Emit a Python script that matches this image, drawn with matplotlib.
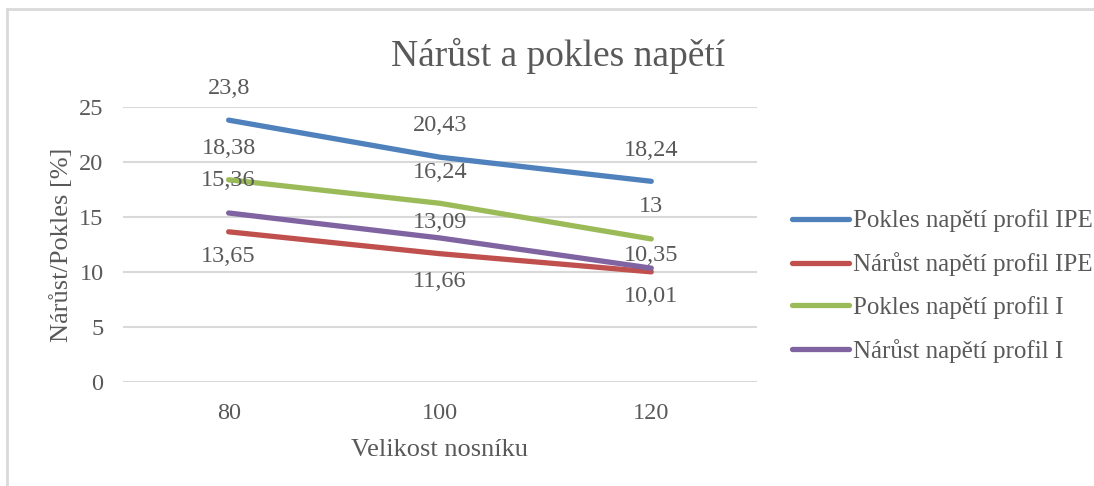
import matplotlib.pyplot as plt
from matplotlib.lines import Line2D

plt.rcParams['font.family'] = ['Liberation Serif', 'DejaVu Serif']

sizes = ['80', '100', '120']
pokles_ipe = [23.8, 20.43, 18.24]
narust_ipe = [13.65, 11.66, 10.01]
pokles_i = [18.38, 16.24, 13.0]
narust_i = [15.36, 13.09, 10.35]
series_names = ['Pokles napětí profil IPE', 'Nárůst napětí profil IPE',
                'Pokles napětí profil I', 'Nárůst napětí profil I']
y_ticks = [0, 5, 10, 15, 20, 25]

txt = '#595959'
colors = ['#4F81BD', '#C0504D', '#9BBB59', '#8064A2']
# vertical offset of the data labels, pixels (+ above, - below)
label_off = [[32, 32, 31], [-25, -28, -25], [31, 31, 32], [32, 15, 13]]

fig = plt.figure(figsize=(10.94, 4.86), dpi=100)
ax = fig.add_axes([0.1124, 0.214, 0.5795, 0.566])

x = [i + 0.5 for i in range(len(sizes))]
all_series = [pokles_ipe, narust_ipe, pokles_i, narust_i]
for vals, name, col, offs in zip(all_series, series_names, colors, label_off):
    ax.plot(x, vals, color=col, linewidth=3.8, solid_capstyle='round',
            solid_joinstyle='round', label=name, zorder=3)
    for xi, v, o in zip(x, vals, offs):
        lab = ('%g' % v).replace('.', ',')
        ax.annotate(lab, (xi, v), xytext=(0, o * 0.72), textcoords='offset points',
                    ha='center', va='center', fontsize=17.5, color=txt, zorder=4)

ax.set_xlim(0, 3)
ax.set_ylim(0, 25)
ax.set_xticks(x)
ax.set_xticklabels(sizes)
ax.set_yticks(y_ticks)
ax.grid(axis='y', color='#D9D9D9', linewidth=1.5, zorder=0)
ax.set_axisbelow(True)
for s in ax.spines.values():
    s.set_visible(False)
ax.tick_params(axis='both', length=0, labelsize=17.5, colors=txt)
ax.tick_params(axis='y', pad=14)
ax.tick_params(axis='x', pad=15)
ax.set_xlabel('Velikost nosníku', fontsize=19, color=txt, labelpad=11)
ax.set_ylabel('Nárůst/Pokles [%]', fontsize=19, color=txt, labelpad=4)

fig.text(558 / 1094, 1 - 56 / 486, 'Nárůst a pokles napětí', ha='center', va='center',
         fontsize=27, color=txt)

handles, labels = ax.get_legend_handles_labels()
leg = fig.legend(handles, labels, loc='center left', bbox_to_anchor=(0.703, 0.411),
                 frameon=False, fontsize=18, handlelength=2.3, handletextpad=0.15,
                 labelspacing=0.8, labelcolor=txt)

# outer chart border (only top and left visible)
fig.add_artist(Line2D([7 / 1094, 7 / 1094], [0, 1 - 9 / 486], transform=fig.transFigure,
                      color='#D9D9D9', linewidth=2))
fig.add_artist(Line2D([7 / 1094, 1093 / 1094], [1 - 9 / 486, 1 - 9 / 486],
                      transform=fig.transFigure, color='#D9D9D9', linewidth=2))

fig.savefig('out.png', dpi=100)
